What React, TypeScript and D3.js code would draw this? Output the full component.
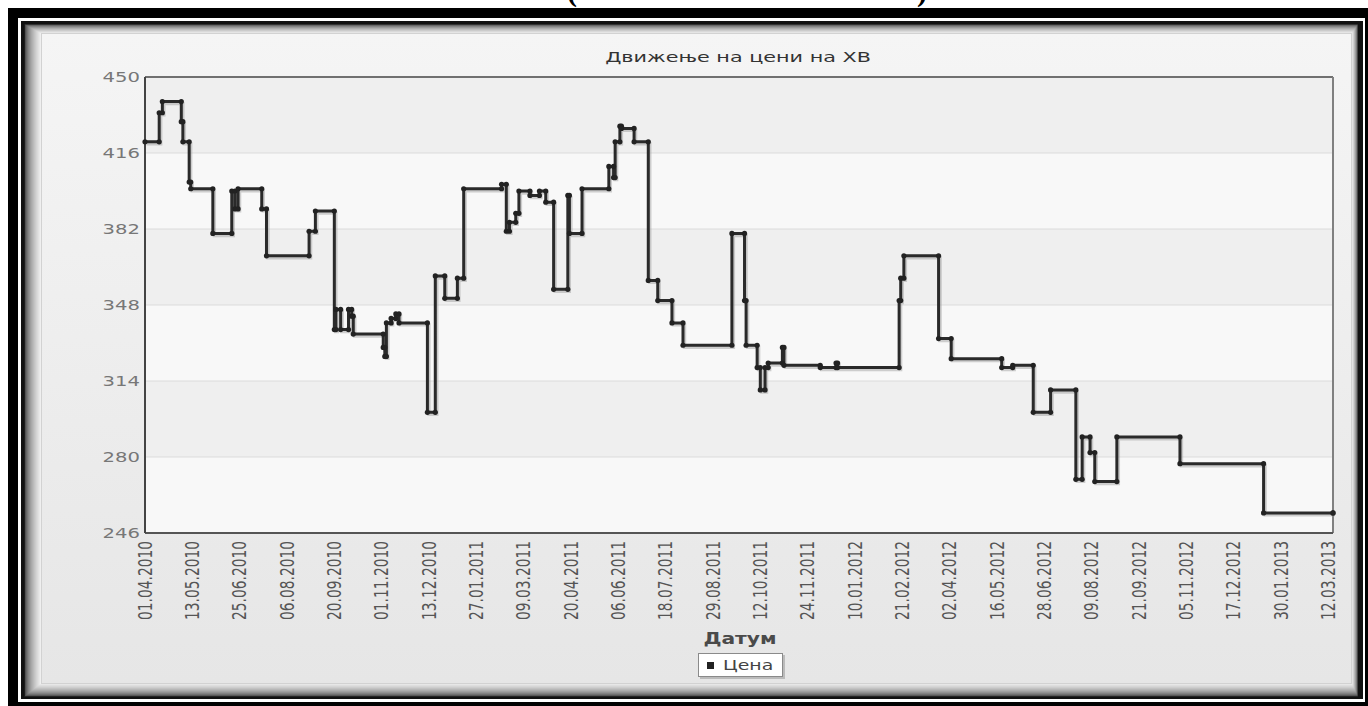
import React, { useEffect, useRef } from 'react';
import * as d3 from 'd3';

// trading-day index where the price changes
const changeDays = [
  0, 9, 11, 23, 24, 28, 29, 43, 55, 57, 59, 74, 77, 104, 108, 120, 121, 124, 129, 131, 132,
  151, 152, 153, 156, 159, 161, 179, 184, 190, 198, 202, 226, 229, 231, 235, 237, 244, 250,
  254, 259, 268, 269, 277, 294, 297, 298, 301, 302, 310, 319, 325, 334, 341, 372, 380, 381,
  388, 390, 393, 395, 404, 405, 428, 438, 439, 478, 479, 481, 503, 511, 543, 550, 563, 574,
  590, 594, 599, 602, 616, 656, 709, 753,
];
// price from that day on
const prices = [
  421, 434, 439, 430, 421, 403, 400, 380, 399, 391, 400, 391, 370, 381, 390, 337, 346, 337, 346, 343, 335,
  329, 325, 340, 342, 344, 340, 300, 361, 351, 360, 400, 402, 381, 385, 389, 399, 397, 399,
  394, 355, 397, 380, 400, 410, 405, 421, 428, 427, 421, 359, 350, 340, 330, 380, 350, 330,
  320, 310, 320, 322, 329, 321, 320, 322, 320, 350, 360, 370, 333, 324, 320, 321, 300, 310,
  270, 289, 282, 269, 289, 277, 255, 255,
];

const dateLabels = [
  '01.04.2010', '13.05.2010', '25.06.2010', '06.08.2010', '20.09.2010', '01.11.2010', '13.12.2010',
  '27.01.2011', '09.03.2011', '20.04.2011', '06.06.2011', '18.07.2011', '29.08.2011', '12.10.2011',
  '24.11.2011', '10.01.2012', '21.02.2012', '02.04.2012', '16.05.2012', '28.06.2012', '09.08.2012',
  '21.09.2012', '05.11.2012', '17.12.2012', '30.01.2013', '12.03.2013',
];
const labelEvery = 30;
const yTicks = [246, 280, 314, 348, 382, 416, 450];

const title = 'Движење на цени на ХВ';
const xTitle = 'Датум';
const seriesName = 'Цена';

const W = 1368;
const H = 706;
const font = "'DejaVu Sans', Verdana, sans-serif";
const SX = 1.4; // the picture is stretched sideways

export default function App() {
  const svgRef = useRef<SVGSVGElement>(null);

  useEffect(() => {
    if (!svgRef.current) return;
    const svg = d3.select(svgRef.current);
    svg.selectAll('*').remove();

    const plot = { left: 145, right: 1333, top: 77, bottom: 533 };
    const x = d3.scaleLinear().domain([0, changeDays[changeDays.length - 1]]).range([plot.left, plot.right]);
    const y = d3.scaleLinear().domain([246, 450]).range([plot.bottom, plot.top]);

    svg.append('rect').attr('width', W).attr('height', H).attr('fill', '#fff');

    // bottoms of a cut-off caption above the frame
    svg.append('text').attr('x', 572).attr('y', 1).attr('text-anchor', 'middle')
      .attr('font-family', "'Liberation Serif', serif").attr('font-weight', 'bold').attr('font-size', 30)
      .text('(');
    svg.append('text').attr('x', 922).attr('y', 1).attr('text-anchor', 'middle')
      .attr('font-family', "'Liberation Serif', serif").attr('font-weight', 'bold').attr('font-size', 30)
      .text(')');

    // black double frame
    svg.append('rect').attr('x', 8).attr('y', 8).attr('width', 1360).attr('height', 698).attr('fill', '#000');
    svg.append('rect').attr('x', 18).attr('y', 18).attr('width', 1347).attr('height', 684).attr('fill', '#fff');
    svg.append('rect').attr('x', 21).attr('y', 21).attr('width', 1342).attr('height', 678).attr('fill', '#111');

    // bevel
    const steps = 16;
    const col = d3.interpolateRgb('#1c1c1c', '#efefef');
    for (let i = 0; i <= steps; i++) {
      const t = i / steps;
      const x0 = 24 + 16 * t, y0 = 24 + 9 * t, x1 = 1358 - 6 * t, y1 = 697 - 13 * t;
      svg.append('rect').attr('x', x0).attr('y', y0).attr('width', x1 - x0).attr('height', y1 - y0)
        .attr('fill', col(Math.sqrt(t)));
    }

    const defs = svg.append('defs');
    const grad = defs.append('linearGradient').attr('id', 'panelGrad').attr('x1', 0).attr('y1', 0).attr('x2', 0).attr('y2', 1);
    grad.append('stop').attr('offset', '0%').attr('stop-color', '#f5f5f5');
    grad.append('stop').attr('offset', '100%').attr('stop-color', '#e6e6e6');
    svg.append('rect').attr('x', 41.5).attr('y', 33.5).attr('width', 1310).attr('height', 650)
      .attr('fill', 'url(#panelGrad)').attr('stroke', '#d2d2d2');

    // plot bands
    const g = svg.append('g');
    for (let i = 0; i < yTicks.length - 1; i++) {
      g.append('rect').attr('x', plot.left).attr('width', plot.right - plot.left)
        .attr('y', y(yTicks[i + 1])).attr('height', y(yTicks[i]) - y(yTicks[i + 1]))
        .attr('fill', (yTicks.length - 2 - i) % 2 === 0 ? '#efefef' : '#f8f8f8');
    }
    g.selectAll('.grid').data(yTicks.slice(1, -1)).join('line')
      .attr('x1', plot.left).attr('x2', plot.right)
      .attr('y1', d => y(d)).attr('y2', d => y(d))
      .attr('stroke', '#dcdcdc').attr('stroke-width', 1.2);

    // plot border
    g.append('line').attr('x1', plot.left).attr('x2', plot.right).attr('y1', plot.top).attr('y2', plot.top)
      .attr('stroke', '#707070').attr('stroke-width', 2);
    g.append('line').attr('x1', plot.right).attr('x2', plot.right).attr('y1', plot.top).attr('y2', plot.bottom)
      .attr('stroke', '#808080').attr('stroke-width', 2);
    g.append('line').attr('x1', plot.left).attr('x2', plot.right).attr('y1', plot.bottom).attr('y2', plot.bottom)
      .attr('stroke', '#555').attr('stroke-width', 2);
    g.append('line').attr('x1', plot.left).attr('x2', plot.left).attr('y1', plot.top).attr('y2', plot.bottom)
      .attr('stroke', '#444').attr('stroke-width', 2);

    // series
    const pts = changeDays.map((d, i) => ({ day: d, price: prices[i] }));
    const line = d3.line<{ day: number; price: number }>()
      .x(d => x(d.day)).y(d => y(d.price)).curve(d3.curveStepAfter);
    g.append('path').attr('d', line(pts)).attr('fill', 'none')
      .attr('stroke', '#999').attr('stroke-opacity', 0.45).attr('stroke-width', 3.4)
      .attr('transform', 'translate(1.5,2)');
    g.append('path').attr('d', line(pts)).attr('fill', 'none')
      .attr('stroke', '#2a2a2a').attr('stroke-width', 3).attr('stroke-linejoin', 'round');

    const marks: [number, number][] = [];
    pts.forEach((p, i) => {
      if (i > 0) marks.push([p.day, pts[i - 1].price]);
      marks.push([p.day, p.price]);
    });
    g.selectAll('.mark').data(marks).join('circle')
      .attr('cx', d => x(d[0])).attr('cy', d => y(d[1])).attr('r', 2.6)
      .attr('fill', '#222');

    // y labels
    yTicks.forEach(v => {
      svg.append('text').attr('transform', `translate(140,${y(v) + 5}) scale(${SX},1)`)
        .attr('text-anchor', 'end').attr('font-family', font).attr('font-size', 14)
        .attr('fill', '#777').text(String(v));
    });

    // x labels
    dateLabels.forEach((lab, i) => {
      svg.append('text')
        .attr('transform', `translate(${x(i * labelEvery)},541) scale(${SX},1) rotate(-90)`)
        .attr('text-anchor', 'end').attr('dy', '0.35em')
        .attr('font-family', font).attr('font-size', 13.8).attr('fill', '#555').text(lab);
    });

    // titles
    svg.append('text').attr('transform', `translate(738,62) scale(1.45,1)`)
      .attr('text-anchor', 'middle').attr('font-family', font).attr('font-size', 14.3)
      .attr('fill', '#333').text(title);
    svg.append('text').attr('transform', `translate(740,644) scale(1.35,1)`)
      .attr('text-anchor', 'middle').attr('font-family', font).attr('font-size', 15)
      .attr('font-weight', 'bold').attr('fill', '#4a4a4a').text(xTitle);

    // legend
    svg.append('rect').attr('x', 700).attr('y', 655).attr('width', 85).attr('height', 24).attr('fill', '#bbb');
    svg.append('rect').attr('x', 698.5).attr('y', 653.5).attr('width', 84).attr('height', 23)
      .attr('fill', '#fff').attr('stroke', '#8a8a8a');
    svg.append('rect').attr('x', 707).attr('y', 662).attr('width', 7).attr('height', 7).attr('fill', '#222');
    svg.append('text').attr('transform', `translate(723,670) scale(1.35,1)`)
      .attr('font-family', font).attr('font-size', 14).attr('fill', '#444').text(seriesName);
  }, []);

  return (
    <div style={{ position: 'absolute', left: 0, top: 0 }}>
      <svg ref={svgRef} width={W} height={H} style={{ display: 'block' }}></svg>
    </div>
  );
}
